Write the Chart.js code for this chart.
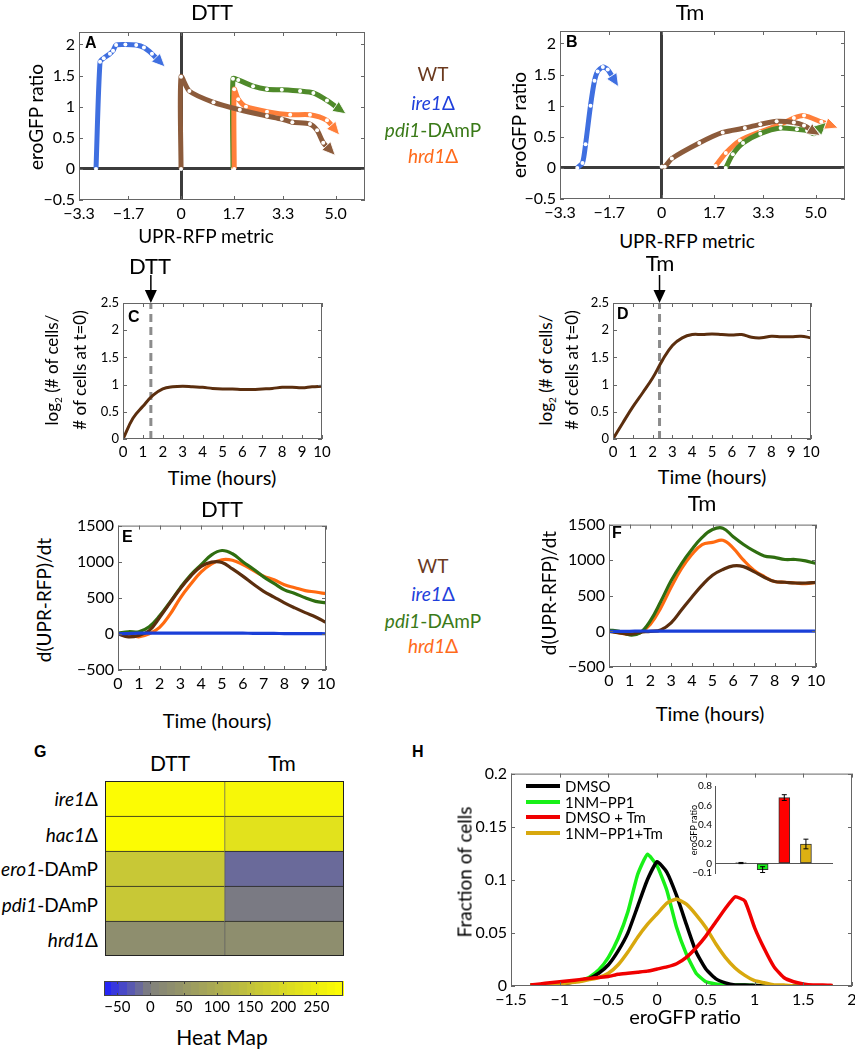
<!DOCTYPE html>
<html>
<head>
<meta charset="utf-8">
<script src="https://cdn.jsdelivr.net/npm/chart.js@4.4.1/dist/chart.umd.min.js"></script>
<style>
body { margin: 0; width: 855px; height: 1050px; position: relative; overflow: hidden; background: #fff; font-family: Lato, "Liberation Sans", sans-serif; }
canvas { position: absolute; }
.lbl { position: absolute; transform: translate(-50%, -50%); white-space: nowrap; line-height: 1; color: #000; }
.letra { position: absolute; transform: translate(0, -50%); font: bold 16px "Liberation Sans", Arial, sans-serif; }
</style>
</head>
<body>
<canvas id="cA"></canvas>
<canvas id="cB"></canvas>
<canvas id="cC"></canvas>
<canvas id="cD"></canvas>
<canvas id="cE"></canvas>
<canvas id="cF"></canvas>
<canvas id="cG"></canvas>
<canvas id="cBarra"></canvas>
<canvas id="cH"></canvas>
<canvas id="cInset"></canvas>
<script>
// ---------- dados ----------
// A / B: trajetorias eroGFP ratio x UPR-RFP metric
var uprTicks = [-3.3, -1.7, 0, 1.7, 3.3, 5.0];
var uprTickLabels = ['−3.3', '−1.7', '0', '1.7', '3.3', '5.0'];
var eroTicks = [-0.5, 0, 0.5, 1, 1.5, 2];

var aIre1X = [-2.75, -2.62, -2.5, -2.3, -2.2, -2.1, -1.8, -1.45, -1.2, -0.94, -0.68];
var aIre1Y = [0, 1.72, 1.78, 1.85, 1.9, 1.99, 2.0, 1.99, 1.95, 1.85, 1.72];
var aWtX = [0, 0, 0.27, 1.05, 1.9, 2.78, 3.26, 3.6, 4.17, 4.4, 4.6, 4.83];
var aWtY = [0, 1.48, 1.25, 1.07, 0.95, 0.85, 0.8, 0.75, 0.72, 0.62, 0.42, 0.3];
var aPdiX = [1.68, 1.68, 1.85, 2.33, 2.78, 3.26, 3.85, 4.28, 4.72, 5.15];
var aPdiY = [0, 1.45, 1.43, 1.33, 1.28, 1.27, 1.25, 1.22, 1.1, 0.95];
var aHrdX = [1.72, 1.72, 1.85, 2.1, 2.78, 3.53, 4.17, 4.72, 4.98];
var aHrdY = [0, 1.28, 1.12, 1.0, 0.92, 0.87, 0.87, 0.78, 0.63];

var bIre1X = [-2.74, -2.57, -2.47, -2.31, -2.18, -2.08, -1.91, -1.75, -1.52];
var bIre1Y = [0, 0.08, 0.38, 1.0, 1.4, 1.55, 1.62, 1.58, 1.4];
var bWtX = [0, 0.1, 0.33, 1.22, 1.98, 2.7, 3.2, 3.73, 4.29, 4.62, 4.95];
var bWtY = [0.02, 0.02, 0.15, 0.4, 0.57, 0.64, 0.7, 0.75, 0.73, 0.68, 0.58];
var bPdiX = [2.08, 2.31, 2.64, 3.2, 3.86, 4.39, 4.72, 4.95, 5.2];
var bPdiY = [0, 0.22, 0.4, 0.55, 0.64, 0.62, 0.6, 0.55, 0.66];
var bHrdX = [1.75, 2.08, 2.54, 3.2, 3.86, 4.29, 4.62, 5.18, 5.51];
var bHrdY = [0.03, 0.24, 0.44, 0.58, 0.7, 0.8, 0.84, 0.74, 0.68];

// C-F: series temporais
var horas = [0, 0.5, 1, 1.5, 2, 2.5, 3, 3.5, 4, 4.5, 5, 5.5, 6, 6.5, 7, 7.5, 8, 8.5, 9, 9.5, 10];
var horaTicks = [0, 1, 2, 3, 4, 5, 6, 7, 8, 9, 10];
var tempoDTT = 1.4;
var tempoTm = 2.35;
var cWt = [0, 0.38, 0.6, 0.8, 0.92, 0.96, 0.97, 0.96, 0.95, 0.93, 0.92, 0.92, 0.91, 0.91, 0.92, 0.93, 0.95, 0.95, 0.94, 0.96, 0.97];
var dWt = [0, 0.3, 0.59, 0.85, 1.12, 1.45, 1.72, 1.86, 1.92, 1.92, 1.93, 1.92, 1.91, 1.92, 1.87, 1.86, 1.89, 1.88, 1.88, 1.89, 1.86];

var eWt = [0, -40, -20, 45, 228, 430, 630, 800, 936, 995, 990, 900, 800, 690, 590, 510, 430, 360, 295, 235, 160];
var ePdi = [10, 30, 30, 100, 250, 440, 640, 820, 960, 1095, 1155, 1110, 1000, 900, 790, 700, 610, 560, 500, 450, 430];
var eHrd = [0, -10, -40, 0, 90, 270, 500, 690, 858, 970, 1027, 1020, 960, 880, 800, 750, 680, 640, 600, 580, 557];
var eIre = [0, 5, 10, 10, 10, 10, 10, 10, 10, 10, 10, 10, 10, 8, 8, 6, 5, 5, 4, 3, 2];

var fWt = [0, -20, -40, -10, 0, 20, 120, 300, 480, 650, 790, 870, 920, 910, 840, 760, 700, 690, 680, 680, 690];
var fPdi = [20, 0, -50, -20, 150, 420, 710, 950, 1150, 1320, 1430, 1450, 1330, 1220, 1130, 1060, 1040, 1010, 1010, 990, 955];
var fHrd = [10, -20, -40, -20, 100, 330, 620, 880, 1080, 1220, 1250, 1280, 1170, 1000, 860, 770, 700, 690, 680, 670, 690];
var fIre = [0, 0, 0, 5, 5, 5, 5, 5, 5, 5, 5, 5, 5, 5, 5, 5, 5, 5, 5, 5, 5];

// G: heat map
var linhasG = ['ire1Δ', 'hac1Δ', 'ero1-DAmP', 'pdi1-DAmP', 'hrd1Δ'];
var heatDTT = [290, 290, 165, 165, 35];
var heatTm = [267, 222, -20, -4, 35];
var barraTicks = [-50, 0, 50, 100, 150, 200, 250];

// H: histogramas eroGFP
var hX = [-1.3, -1.2, -1.1, -1.0, -0.9, -0.8, -0.7, -0.6, -0.5, -0.4, -0.3, -0.2, -0.1, 0, 0.1, 0.2, 0.3, 0.4, 0.5, 0.6, 0.7, 0.8, 0.9, 1.0, 1.1, 1.2, 1.3, 1.4, 1.5, 1.6, 1.7, 1.8];
var hDmso = [0.001, 0.001, 0.002, 0.002, 0.003, 0.005, 0.007, 0.012, 0.02, 0.033, 0.05, 0.075, 0.1, 0.117, 0.107, 0.085, 0.058, 0.032, 0.016, 0.007, 0.003, 0.001, 0.001, 0.0005, 0, 0, 0, 0, 0, 0, 0, 0];
var hPp1 = [0.001, 0.001, 0.002, 0.003, 0.004, 0.005, 0.008, 0.015, 0.027, 0.045, 0.07, 0.105, 0.124, 0.113, 0.09, 0.055, 0.03, 0.012, 0.004, 0.002, 0.001, 0.001, 0.001, 0.0005, 0, 0, 0, 0, 0, 0, 0, 0];
var hDmsoTm = [0.001, 0.002, 0.003, 0.004, 0.005, 0.006, 0.007, 0.008, 0.009, 0.011, 0.012, 0.013, 0.014, 0.016, 0.018, 0.021, 0.027, 0.036, 0.047, 0.06, 0.073, 0.084, 0.08, 0.055, 0.035, 0.018, 0.008, 0.004, 0.002, 0.001, 0.001, 0.0005];
var hPp1Tm = [0.001, 0.001, 0.002, 0.002, 0.003, 0.004, 0.006, 0.008, 0.012, 0.02, 0.032, 0.046, 0.058, 0.068, 0.078, 0.082, 0.077, 0.067, 0.055, 0.04, 0.027, 0.017, 0.01, 0.005, 0.003, 0.001, 0.001, 0, 0, 0, 0, 0];
var insetValores = [0.003, -0.065, 0.68, 0.2];
var insetErros = [0.006, 0.03, 0.03, 0.05];

// ---------- estilos ----------
Chart.defaults.font.family = 'Lato, "Liberation Sans", sans-serif';
Chart.defaults.color = '#000';

var MARROM = '#8c5b3b', AZUL = '#3f6fe0', VERDE = '#4f8a2a', LARANJA = '#ff7f3a';
var MARROM2 = '#5b2e0e', AZUL2 = '#1a3fd8', VERDE2 = '#2f6e10', LARANJA2 = '#ff6a10';

function pontos(xs, ys) {
    return xs.map(function (x, i) { return {x: x, y: ys[i]}; });
}

function menos(v) { return String(v).replace('-', '−'); }

// escala linear com ticks fixos e tamanho fixo
function escala(cfg) {
    return {
        type: 'linear', min: cfg.min, max: cfg.max, display: cfg.display !== false,
        border: {display: false},
        grid: {
            display: !!cfg.zero, drawTicks: false, lineWidth: cfg.zeroWidth || 3,
            color: function (c) { return c.tick && c.tick.value === 0 ? (cfg.zeroColor || '#3c3c3c') : 'rgba(0,0,0,0)'; }
        },
        ticks: {
            color: '#000', padding: cfg.pad || 4, autoSkip: false, maxRotation: 0, font: {size: cfg.fs},
            callback: function (v, i) { return cfg.labels ? cfg.labels[i] : menos(v); }
        },
        afterBuildTicks: function (a) { a.ticks = cfg.ticks.map(function (v) { return {value: v}; }); },
        afterFit: function (a) { if (cfg.size !== undefined) { if (a.isHorizontal()) a.height = cfg.size; else a.width = cfg.size; } }
    };
}

// desenha a caixa do grafico com ticks para dentro (estilo matlab)
var caixaPlugin = {
    id: 'caixa',
    afterDraw: function (chart, args, o) {
        if (!o.on) return;
        var ctx = chart.ctx, a = chart.chartArea, L = o.tick === undefined ? 4 : o.tick;
        ctx.save();
        ctx.strokeStyle = o.color || '#666';
        ctx.lineWidth = 1;
        ctx.strokeRect(a.left + 0.5, a.top + 0.5, a.right - a.left - 1, a.bottom - a.top - 1);
        if (L > 0) {
            ctx.beginPath();
            var sx = chart.scales.x, sy = chart.scales.y;
            sx.ticks.forEach(function (t) {
                var p = Math.round(sx.getPixelForValue(t.value)) + 0.5;
                ctx.moveTo(p, a.bottom); ctx.lineTo(p, a.bottom - L);
                ctx.moveTo(p, a.top); ctx.lineTo(p, a.top + L);
            });
            if (sy.options.display) {
                sy.ticks.forEach(function (t) {
                    var p = Math.round(sy.getPixelForValue(t.value)) + 0.5;
                    ctx.moveTo(a.left, p); ctx.lineTo(a.left + L, p);
                    ctx.moveTo(a.right, p); ctx.lineTo(a.right - L, p);
                });
            }
            ctx.stroke();
        }
        ctx.restore();
    }
};

// ponta de seta no fim das trajetorias
var pontaPlugin = {
    id: 'ponta',
    afterDatasetsDraw: function (chart) {
        var ctx = chart.ctx;
        chart.data.datasets.forEach(function (ds, i) {
            if (!ds.ponta) return;
            var pts = chart.getDatasetMeta(i).data, n = pts.length;
            var p1 = pts[n - 2], p2 = pts[n - 1];
            var ang = Math.atan2(p2.y - p1.y, p2.x - p1.x);
            ctx.save();
            ctx.translate(p2.x, p2.y);
            ctx.rotate(ang);
            ctx.beginPath();
            ctx.moveTo(7, 0); ctx.lineTo(-6, -6); ctx.lineTo(-6, 6); ctx.closePath();
            ctx.fillStyle = ds.borderColor;
            ctx.fill();
            ctx.strokeStyle = '#fff'; ctx.lineWidth = 0.8;
            ctx.stroke();
            ctx.restore();
        });
    }
};

// seta acima do grafico marcando a adicao da droga
var setaPlugin = {
    id: 'seta',
    afterDraw: function (chart, args, o) {
        if (o.x === undefined) return;
        var ctx = chart.ctx, a = chart.chartArea, px = chart.scales.x.getPixelForValue(o.x);
        ctx.save();
        ctx.strokeStyle = '#000'; ctx.fillStyle = '#000'; ctx.lineWidth = 1.5;
        ctx.beginPath(); ctx.moveTo(px, a.top - 28); ctx.lineTo(px, a.top - 10); ctx.stroke();
        ctx.beginPath(); ctx.moveTo(px - 6, a.top - 13); ctx.lineTo(px + 6, a.top - 13); ctx.lineTo(px, a.top); ctx.closePath(); ctx.fill();
        ctx.restore();
    }
};

// colormap azul -> cinza -> amarelo, em degraus
var VMIN = -70, VMAX = 290, NIVEIS = 30;
function corMapa(v) {
    var passo = (VMAX - VMIN) / NIVEIS;
    var k = Math.min(NIVEIS - 1, Math.max(0, Math.floor((v - VMIN) / passo)));
    var q = VMIN + (k + 0.5) * passo, c;
    if (q < 0) {
        var s = (q - VMIN) / (0 - VMIN);
        c = [30 + 98 * s, 30 + 98 * s, 255 - 131 * s];
    } else {
        var t = q / VMAX;
        c = [128 + 127 * t, 128 + 127 * t, 124 - 124 * t];
    }
    return 'rgb(' + c.map(Math.round).join(',') + ')';
}

var faixasPlugin = {
    id: 'faixas',
    beforeDatasetsDraw: function (chart, args, o) {
        if (!o.on) return;
        var ctx = chart.ctx, a = chart.chartArea, sx = chart.scales.x;
        var passo = (VMAX - VMIN) / NIVEIS;
        for (var k = 0; k < NIVEIS; k++) {
            var x0 = sx.getPixelForValue(VMIN + k * passo), x1 = sx.getPixelForValue(VMIN + (k + 1) * passo);
            ctx.fillStyle = corMapa(VMIN + (k + 0.5) * passo);
            ctx.fillRect(Math.floor(x0), a.top, Math.ceil(x1 - x0) + 1, a.bottom - a.top);
        }
    }
};

var errosPlugin = {
    id: 'erros',
    afterDatasetsDraw: function (chart, args, o) {
        if (!o.valores) return;
        var ctx = chart.ctx, sy = chart.scales.y, ds = chart.data.datasets[0];
        ctx.save();
        ctx.strokeStyle = '#000'; ctx.lineWidth = 1;
        chart.getDatasetMeta(0).data.forEach(function (el, i) {
            var v = ds.data[i].y, e = o.valores[i];
            var y0 = sy.getPixelForValue(v - e), y1 = sy.getPixelForValue(v + e);
            ctx.beginPath();
            ctx.moveTo(el.x, y0); ctx.lineTo(el.x, y1);
            ctx.moveTo(el.x - 2.5, y0); ctx.lineTo(el.x + 2.5, y0);
            ctx.moveTo(el.x - 2.5, y1); ctx.lineTo(el.x + 2.5, y1);
            ctx.stroke();
        });
        ctx.restore();
    }
};

Chart.register(caixaPlugin, pontaPlugin, setaPlugin, faixasPlugin, errosPlugin);

function grafico(id, g, type, data, scales, plugins, extra) {
    var c = document.getElementById(id), m = g.m;
    c.width = m.l + g.w + m.r;
    c.height = m.t + g.h + m.b;
    c.style.left = (g.x - m.l) + 'px';
    c.style.top = (g.y - m.t) + 'px';
    var options = {
        responsive: false, animation: false, devicePixelRatio: 1,
        layout: {padding: {top: m.t, right: m.r, left: m.pl || 0, bottom: m.pb || 0}},
        scales: scales,
        plugins: Object.assign({legend: {display: false}, tooltip: {enabled: false}}, plugins)
    };
    Object.assign(options, extra || {});
    return new Chart(c.getContext('2d'), {type: type, data: data, options: options});
}

function texto(x, y, html, css, cls) {
    var d = document.createElement('div');
    d.className = cls || 'lbl';
    d.innerHTML = html;
    d.style.left = x + 'px';
    d.style.top = y + 'px';
    Object.assign(d.style, css || {});
    document.body.appendChild(d);
    return d;
}
var ROT = 'translate(-50%, -50%) rotate(-90deg)';

// ---------- A e B: trajetorias ----------
function trajeto(xs, ys, cor) {
    return {
        data: pontos(xs, ys), borderColor: cor, borderWidth: 5, tension: 0.25,
        pointRadius: 2, pointBackgroundColor: '#fff', pointBorderWidth: 0, ponta: true
    };
}
function cauda(xs, ys) {
    var n = xs.length;
    return {
        data: pontos(xs.slice(n - 4), ys.slice(n - 4)), borderColor: 'rgba(255,255,255,0.9)',
        borderWidth: 1.6, tension: 0.25, pointRadius: 0
    };
}
function trajetoria(id, g, series) {
    var ds = [];
    series.forEach(function (s) { ds.push(trajeto(s[0], s[1], s[2])); });
    series.forEach(function (s) { ds.push(cauda(s[0], s[1])); });
    grafico(id, g, 'line', {datasets: ds}, {
        x: escala({min: -3.3, max: 5.95, ticks: uprTicks, labels: uprTickLabels, fs: 16, size: g.m.b, zero: true}),
        y: escala({min: -0.5, max: 2.2, ticks: eroTicks, fs: 16, size: g.m.l, zero: true})
    }, {caixa: {on: true}});
}
var mAB = {l: 50, t: 14, r: 14, b: 26};
trajetoria('cA', {x: 79, y: 32, w: 286, h: 168, m: mAB}, [
    [aIre1X, aIre1Y, AZUL], [aWtX, aWtY, MARROM], [aHrdX, aHrdY, LARANJA], [aPdiX, aPdiY, VERDE]
]);
trajetoria('cB', {x: 560, y: 31, w: 285, h: 168, m: mAB}, [
    [bIre1X, bIre1Y, AZUL], [bWtX, bWtY, MARROM], [bPdiX, bPdiY, VERDE], [bHrdX, bHrdY, LARANJA]
]);

// ---------- C e D: crescimento ----------
function crescimento(id, g, serie, tDroga) {
    grafico(id, g, 'line', {datasets: [
        {data: pontos(horas, serie), borderColor: MARROM2, borderWidth: 3, tension: 0.4, pointRadius: 0},
        {data: pontos([tDroga, tDroga], [0, 2.5]), borderColor: '#8c8c8c', borderWidth: 3, borderDash: [8, 5], pointRadius: 0}
    ]}, {
        x: escala({min: 0, max: 10, ticks: horaTicks, fs: 15, size: g.m.b}),
        y: escala({min: 0, max: 2.5, ticks: [0, 0.5, 1, 1.5, 2, 2.5], fs: 13, size: g.m.l})
    }, {caixa: {on: true}, seta: {x: tDroga}});
}
var mCD = {l: 40, t: 32, r: 14, b: 24};
crescimento('cC', {x: 123, y: 303, w: 199, h: 136, m: mCD}, cWt, tempoDTT);
crescimento('cD', {x: 613, y: 303, w: 198, h: 136, m: mCD}, dWt, tempoTm);

// ---------- E e F: d(UPR-RFP)/dt ----------
function derivada(id, g, wt, ire, pdi, hrd) {
    function linha(v, cor) { return {data: pontos(horas, v), borderColor: cor, borderWidth: 3.2, tension: 0.4, pointRadius: 0}; }
    grafico(id, g, 'line', {datasets: [linha(ire, AZUL2), linha(wt, MARROM2), linha(pdi, VERDE2), linha(hrd, LARANJA2)]}, {
        x: escala({min: 0, max: 10, ticks: horaTicks, fs: 16, size: g.m.b}),
        y: escala({min: -500, max: 1500, ticks: [-500, 0, 500, 1000, 1500], fs: 16, size: g.m.l})
    }, {caixa: {on: true}});
}
var mEF = {l: 52, t: 12, r: 14, b: 26};
derivada('cE', {x: 118, y: 524, w: 208, h: 146, m: mEF}, eWt, eIre, ePdi, eHrd);
derivada('cF', {x: 609, y: 523, w: 207, h: 144, m: mEF}, fWt, fIre, fPdi, fHrd);

// ---------- G: heat map ----------
function celulas(vals) {
    return {
        data: vals.map(function () { return 1; }), backgroundColor: vals.map(corMapa),
        borderColor: '#222', borderWidth: {top: 1, left: 1, right: 0, bottom: 0}, borderSkipped: false,
        barPercentage: 1, categoryPercentage: 1, stack: 'g'
    };
}
grafico('cG', {x: 105, y: 781, w: 239, h: 175, m: {l: 1, t: 1, r: 1, b: 1, pl: 1, pb: 1}}, 'bar',
    {labels: linhasG, datasets: [celulas(heatDTT), celulas(heatTm)]},
    {x: {stacked: true, display: false, min: 0, max: 2}, y: {stacked: true, display: false}},
    {caixa: {on: true, tick: 0, color: '#222'}}, {indexAxis: 'y'});

grafico('cBarra', {x: 104, y: 981, w: 239, h: 15, m: {l: 20, t: 4, r: 20, b: 22, pl: 20}}, 'scatter',
    {datasets: []},
    {
        x: escala({min: VMIN, max: VMAX, ticks: barraTicks, fs: 15, size: 22, pad: 2}),
        y: {display: false, min: 0, max: 1}
    },
    {caixa: {on: true, tick: 3, color: '#444'}, faixas: {on: true}});

// ---------- H: histogramas + inset ----------
function hist(v, cor) { return {data: pontos(hX, v), borderColor: cor, borderWidth: 3.5, tension: 0.15, pointRadius: 0}; }
grafico('cH', {x: 511, y: 772, w: 341, h: 214, m: {l: 50, t: 12, r: 12, b: 26}}, 'line',
    {datasets: [hist(hDmsoTm, '#f00000'), hist(hPp1Tm, '#d8a80e'), hist(hDmso, '#000000'), hist(hPp1, '#18f018')]},
    {
        x: escala({min: -1.5, max: 2, ticks: [-1.5, -1, -0.5, 0, 0.5, 1, 1.5, 2], fs: 16, size: 26}),
        y: escala({min: 0, max: 0.2, ticks: [0, 0.05, 0.1, 0.15, 0.2], fs: 16, size: 50})
    }, {caixa: {on: true}});

var insetY = escala({min: -0.1, max: 0.8, ticks: [-0.1, 0, 0.2, 0.4, 0.6, 0.8], fs: 10, size: 24, zero: true, zeroWidth: 1, zeroColor: '#555', pad: 3});
insetY.border = {display: true, color: '#555'};
grafico('cInset', {x: 715, y: 785, w: 118, h: 93, m: {l: 24, t: 8, r: 4, b: 4, pb: 4}}, 'bar',
    {datasets: [{
        data: insetValores.map(function (v, i) { return {x: i + 1, y: v}; }),
        backgroundColor: ['#000000', '#18f018', '#ff0000', '#dcb012'],
        borderColor: '#333', borderWidth: 1, borderSkipped: false, barThickness: 11
    }]},
    {x: {type: 'linear', min: -0.2, max: 5.25, offset: false, display: false, grid: {offset: false}}, y: insetY},
    {erros: {valores: insetErros}});

// ---------- textos ----------
texto(212, 12, 'DTT', {fontSize: '22px'});
texto(690, 12, 'Tm', {fontSize: '22px'});
texto(35, 117, 'eroGFP ratio', {fontSize: '19px', transform: ROT});
texto(518, 125, 'eroGFP ratio', {fontSize: '19px', transform: ROT});
texto(206, 235, 'UPR-RFP metric', {fontSize: '19px'});
texto(687, 240, 'UPR-RFP metric', {fontSize: '19px'});

texto(150, 266, 'DTT', {fontSize: '22px'});
texto(660, 263, 'Tm', {fontSize: '22px'});
texto(53, 370, 'log<sub style="font-size:10px">2</sub> (# of cells/', {fontSize: '17px', transform: ROT});
texto(79, 370, '# of cells at t=0)', {fontSize: '17px', transform: ROT});
texto(547, 370, 'log<sub style="font-size:10px">2</sub> (# of cells/', {fontSize: '17px', transform: ROT});
texto(571, 370, '# of cells at t=0)', {fontSize: '17px', transform: ROT});
texto(222, 477, 'Time (hours)', {fontSize: '20px'});
texto(712, 476, 'Time (hours)', {fontSize: '20px'});

texto(222, 509, 'DTT', {fontSize: '22px'});
texto(702, 503, 'Tm', {fontSize: '22px'});
texto(43, 600, 'd(UPR-RFP)/dt', {fontSize: '19px', transform: ROT});
texto(548, 593, 'd(UPR-RFP)/dt', {fontSize: '19px', transform: ROT});
texto(217, 720, 'Time (hours)', {fontSize: '20px'});
texto(710, 713, 'Time (hours)', {fontSize: '20px'});

function legendaCepas(ys) {
    texto(433, ys[0], 'WT', {fontSize: '19px', color: '#6b3a1e'});
    texto(433, ys[1], '<i>ire1</i>Δ', {fontSize: '19px', color: '#1f3fdb'});
    texto(433, ys[2], '<i>pdi1</i>-DAmP', {fontSize: '19px', color: '#3a7a18'});
    texto(433, ys[3], '<i>hrd1</i>Δ', {fontSize: '19px', color: '#ff6a1a'});
}
legendaCepas([73, 102, 129, 155]);
legendaCepas([565, 593, 620, 645]);

[['A', 85, 43], ['B', 566, 42], ['C', 128, 317], ['D', 617, 314], ['E', 122, 537], ['F', 612, 533], ['G', 34, 752], ['H', 412, 752]]
    .forEach(function (l) { texto(l[1], l[2], l[0], {}, 'letra'); });

texto(170, 762, 'DTT', {fontSize: '21px'});
texto(282, 762, 'Tm', {fontSize: '21px'});
var rotulosG = ['<i>ire1</i>Δ', '<i>hac1</i>Δ', '<i>ero1</i>-DAmP', '<i>pdi1</i>-DAmP', '<i>hrd1</i>Δ'];
var ysG = [798, 834, 868, 904, 939];
rotulosG.forEach(function (r, i) { texto(98, ysG[i], r, {fontSize: '19px', transform: 'translate(-100%, -50%)'}); });
texto(222, 1036, 'Heat Map', {fontSize: '21px'});

texto(464, 872, 'Fraction of cells', {fontSize: '19px', transform: ROT});
texto(685, 1016, 'eroGFP ratio', {fontSize: '20px'});
texto(693, 830, 'eroGFP ratio', {fontSize: '9px', transform: ROT});

var legH = [['DMSO', '#000000'], ['1NM−PP1', '#18f018'], ['DMSO + Tm', '#f00000'], ['1NM−PP1+Tm', '#d8a80e']];
[786, 802, 817, 833].forEach(function (y, i) {
    var d = document.createElement('div');
    d.style.cssText = 'position:absolute;left:526px;top:' + (y - 2) + 'px;width:34px;height:4px;background:' + legH[i][1];
    document.body.appendChild(d);
    texto(565, y, legH[i][0], {fontSize: '15px', transform: 'translate(0, -50%)'});
});
</script>
</body>
</html>
